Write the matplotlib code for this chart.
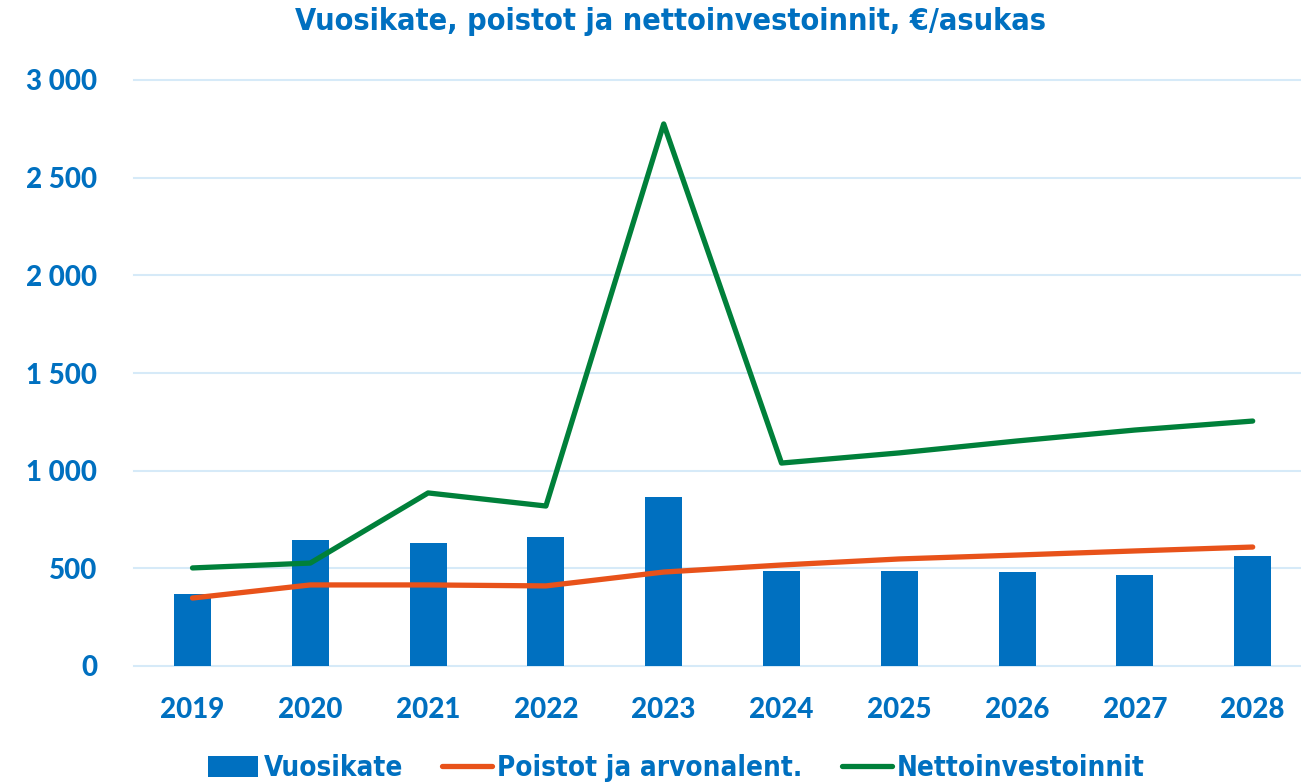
import matplotlib.pyplot as plt
from matplotlib.ticker import FuncFormatter

years = ['2019', '2020', '2021', '2022', '2023', '2024', '2025', '2026', '2027', '2028']
vuosikate = [370, 645, 630, 660, 865, 486, 486, 481, 466, 563]
poistot = [348, 415, 415, 410, 481, 517, 548, 568, 589, 609]
netto = [502, 527, 886, 819, 2775, 1039, 1091, 1152, 1208, 1254]

blue = '#0070C0'
orange = '#E8521A'
green = '#00803A'
tick_font = ['Lato', 'DejaVu Sans']

fig = plt.figure(figsize=(13.01, 7.84), dpi=100)
ax = fig.add_axes([133.6 / 1301, 118 / 784, (1301 - 133.6) / 1301, 586 / 784])

x = range(len(years))
bars = ax.bar(x, vuosikate, width=0.314, color=blue, label='Vuosikate', zorder=2)
l1, = ax.plot(x, poistot, color=orange, lw=3.8, solid_capstyle='round',
              solid_joinstyle='round', label='Poistot ja arvonalent.', zorder=3)
l2, = ax.plot(x, netto, color=green, lw=3.8, solid_capstyle='round',
              solid_joinstyle='round', label='Nettoinvestoinnit', zorder=3)

ax.set_xlim(-0.5, 9.41)
ax.set_ylim(0, 3000)
ax.set_yticks(range(0, 3001, 500))
ax.yaxis.set_major_formatter(FuncFormatter(lambda v, p: f'{int(v):,}'.replace(',', ' ')))
ax.set_xticks(list(x))
ax.set_xticklabels(years)
ax.grid(axis='y', color='#D6EAF8', lw=1.5, zorder=0)
for gl in ax.get_ygridlines():
    gl.set_clip_on(False)
for s in ax.spines.values():
    s.set_visible(False)
ax.tick_params(length=0, colors=blue)
ax.tick_params(axis='y', pad=26)
ax.tick_params(axis='x', pad=22)
for lab in ax.get_xticklabels() + ax.get_yticklabels():
    lab.set_fontfamily(tick_font)
    lab.set_fontweight('black')
    lab.set_fontsize(20)
    lab.set_color(blue)

fig.text(0.515, 0.972, 'Vuosikate, poistot ja nettoinvestoinnit, €/asukas',
         ha='center', va='center', color=blue, fontsize=22, fontweight='bold',
         family='DejaVu Sans', fontstretch='condensed')

leg = fig.legend([bars, l1, l2], ['Vuosikate', 'Poistot ja arvonalent.', 'Nettoinvestoinnit'],
                 loc='center', bbox_to_anchor=(0.52, 0.02), ncol=3, frameon=False,
                 prop={'family': 'DejaVu Sans', 'stretch': 'condensed', 'size': 20,
                       'weight': 'bold'},
                 handlelength=1.8, handleheight=0.75, handletextpad=0.2,
                 columnspacing=1.4)
for t in leg.get_texts():
    t.set_color(blue)

fig.savefig('out.png', dpi=100)
